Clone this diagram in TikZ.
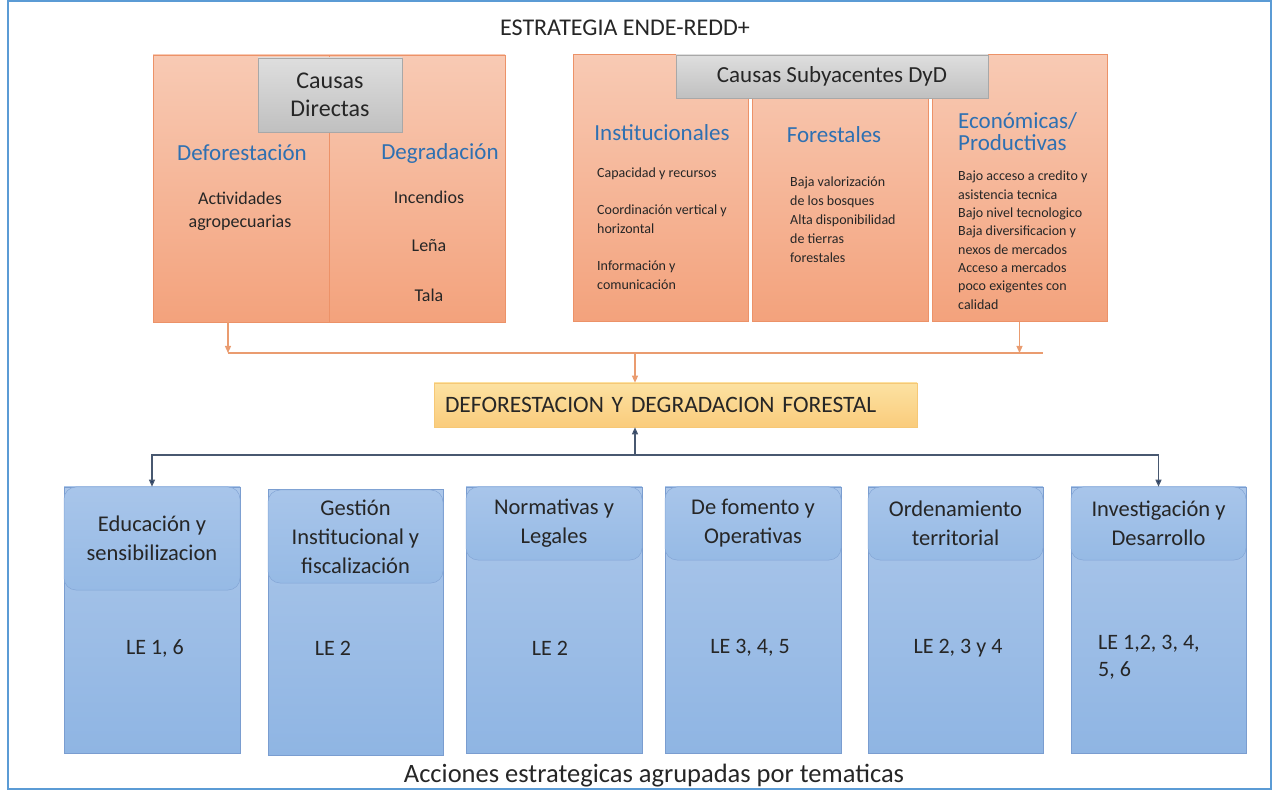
\documentclass[tikz,border=0pt]{standalone}
\usepackage{fontspec}
\setmainfont{Carlito}
\usepackage{tikz}
\usetikzlibrary{arrows.meta,positioning,calc}
\usepackage{xcolor}
\definecolor{framblue}{RGB}{91,155,213}
\definecolor{causetop}{RGB}{248,202,180}
\definecolor{causebot}{RGB}{243,162,124}
\definecolor{causeedge}{RGB}{236,146,104}
\definecolor{graytop}{RGB}{222,222,222}
\definecolor{graybot}{RGB}{192,192,192}
\definecolor{grayedge}{RGB}{168,168,168}
\definecolor{titleblue}{RGB}{46,112,178}
\definecolor{darktext}{RGB}{38,38,38}
\definecolor{yellowtop}{RGB}{252,226,162}
\definecolor{yellowbot}{RGB}{250,204,124}
\definecolor{yellowedge}{RGB}{246,200,118}
\definecolor{actiontop}{RGB}{172,199,234}
\definecolor{actionbot}{RGB}{143,181,227}
\definecolor{actionedge}{RGB}{122,157,208}
\definecolor{headtop}{RGB}{168,197,234}
\definecolor{headbot}{RGB}{150,186,229}
\definecolor{headedge}{RGB}{132,166,214}
\definecolor{causelink}{RGB}{234,156,112}
\definecolor{actionlink}{RGB}{72,88,112}
\definecolor{actiontip}{RGB}{31,56,100}
\tikzset{
  framebox/.style={draw=framblue,line width=1.5pt,minimum width=1263,minimum height=788,inner sep=0pt},
  titletext/.style={font=\fontsize{24}{26}\selectfont,text=darktext},
  causebox/.style={draw=causeedge,top color=causetop,bottom color=causebot,minimum width=176,minimum height=267,
    inner sep=0pt,line width=0.6pt},
  graybox/.style={draw=grayedge,top color=graytop,bottom color=graybot,align=center,inner sep=0pt,
    text=darktext,line width=0.5pt},
  causetitle/.style={text=titleblue,font=\fontsize{23}{23}\selectfont,align=center,inner sep=0pt},
  causeitem/.style={font=\fontsize{18}{23}\selectfont,align=center,text=darktext,inner sep=0pt},
  smallitem/.style={font=\fontsize{14}{19}\selectfont,align=left,anchor=north west,text=darktext,inner sep=0pt},
  effectbox/.style={draw=yellowedge,top color=yellowtop,bottom color=yellowbot,text width=461,align=left,
    inner xsep=11pt,minimum height=44,font=\fontsize{23.5}{25}\selectfont,text=darktext,line width=0.6pt},
  actionbox/.style={draw=actionedge,top color=actiontop,bottom color=actionbot,minimum width=176,minimum height=266,
    inner sep=0pt,line width=0.6pt},
  actionhead/.style={draw=headedge,top color=headtop,bottom color=headbot,rounded corners=12pt,minimum width=176,
    inner sep=0pt,align=center,font=\fontsize{22.5}{29}\selectfont,text=darktext,line width=0.5pt},
  letext/.style={font=\fontsize{22}{27}\selectfont,text=darktext,align=center,inner sep=0pt},
  causeline/.style={draw=causelink,line width=1.2pt},
  causeflow/.style={-{Triangle[length=7pt,width=6pt]},draw=causelink,line width=1.2pt},
  actionflow/.style={draw=actionlink,line width=1.3pt,
    arrows={-{Triangle[length=7pt,width=6pt,fill=actiontip]}}}
}
\begin{document}
\begin{tikzpicture}[x=1pt,y=-1pt]
  \useasboundingbox (0,0) rectangle (1278,791);
  \node[framebox] (frame) at (639.5,395) {};
  \node[titletext] (title) at (625,28) {ESTRATEGIA ENDE-REDD+};

  \node[causebox] (defo) at (241,188.5) {};
  \node[causebox] (degr) at (417,188.5) {};
  \node[graybox,minimum width=144,minimum height=74,font=\fontsize{24}{28}\selectfont] (cdir) at (330,95) {Causas\\Directas};
  \node[causetitle] (tdefo) at (242,153) {Deforestación};
  \node[causetitle] (tdegr) at (440,153) {Degradación};
  \node[causeitem] (ndefo) at (240,211) {Actividades\\agropecuarias};
  \node[causeitem] (inc) at (429,197) {Incendios};
  \node[causeitem] (lena) at (429,246) {Leña};
  \node[causeitem] (tala) at (429,295) {Tala};

  \node[causebox,minimum width=175] (inst) at (660.5,188) {};
  \node[causebox] (fore) at (840,188) {};
  \node[causebox,minimum width=175] (econ) at (1019.5,188) {};
  \node[graybox,minimum width=312,minimum height=43,font=\fontsize{23}{26}\selectfont] (csub) at (832,76.5) {Causas Subyacentes DyD};
  \node[causetitle] (tinst) at (662,133) {Institucionales};
  \node[causetitle] (tfore) at (834,135) {Forestales};
  \node[causetitle,align=left,anchor=west] (tecon) at (958,132) {Económicas/\\[-1pt]Productivas};
  \node[smallitem] (ninst) at (597,168) {Capacidad y recursos\\[18pt]Coordinación vertical y\\horizontal\\[18pt]Información y\\comunicación};
  \node[smallitem] (nfore) at (790,177) {Baja valorización\\de los bosques\\Alta disponibilidad\\de tierras\\forestales};
  \node[smallitem,font=\fontsize{14}{18.3}\selectfont] (necon) at (958,171) {Bajo acceso a credito y\\asistencia tecnica\\Bajo nivel tecnologico\\Baja diversificacion y\\nexos de mercados\\Acceso a mercados\\poco exigentes con\\calidad};

  \node[effectbox] (dd) at (675.5,405) {DEFORESTACION Y DEGRADACION FORESTAL};

  \coordinate (cl) at (228,353);
  \coordinate (cr) at (1043,353);
  \coordinate (cm) at (635,353);
  \draw[causeline] (cl) -- (cr);
  \draw[causeflow] (defo.south -| cl) -- (cl);
  \draw[causeflow] (econ.south) -- (econ.south |- cr);
  \draw[causeflow] (cm) -- (cm |- dd.north);

  \node[actionbox] (a1) at (152,620) {};
  \node[actionbox,minimum width=175] (a2) at (355.5,622.5) {};
  \node[actionbox] (a3) at (554,620) {};
  \node[actionbox] (a4) at (753,620) {};
  \node[actionbox,minimum width=175] (a5) at (955.5,620) {};
  \node[actionbox,minimum width=175] (a6) at (1158.5,620) {};
  \node[actionhead,minimum height=103] (h1) at (152,538.5) {Educación y\\sensibilizacion};
  \node[actionhead,minimum width=175,minimum height=93] (h2) at (355.5,536.5) {Gestión\\Institucional y\\fiscalización};
  \node[actionhead,minimum height=73] (h3) at (554,523.5) {Normativas y\\Legales};
  \node[actionhead,minimum height=73] (h4) at (753,523.5) {De fomento y\\Operativas};
  \node[actionhead,minimum width=175,minimum height=73] (h5) at (955.5,523.5) {Ordenamiento\\territorial};
  \node[actionhead,minimum width=175,minimum height=73] (h6) at (1158.5,523.5) {Investigación y\\Desarrollo};
  \node[letext] (l1) at (155,648) {LE 1, 6};
  \node[letext] (l2) at (333,648) {LE 2};
  \node[letext] (l3) at (550,648) {LE 2};
  \node[letext] (l4) at (750,648) {LE 3, 4, 5};
  \node[letext] (l5) at (958,648) {LE 2, 3 y 4};
  \node[letext,align=left,anchor=west] (l6) at (1098,657) {LE 1,2, 3, 4,\\5, 6};

  \coordinate (bm) at (635,455);
  \draw[actionflow] (bm) -- (bm |- dd.south);
  \draw[actionflow] (bm) -| (a1.north);
  \draw[actionflow] (bm) -| (a6.north);

  \node[font=\fontsize{26.5}{28}\selectfont,text=darktext] (caption) at (654,776) {Acciones estrategicas agrupadas por tematicas};
\end{tikzpicture}
\end{document}
